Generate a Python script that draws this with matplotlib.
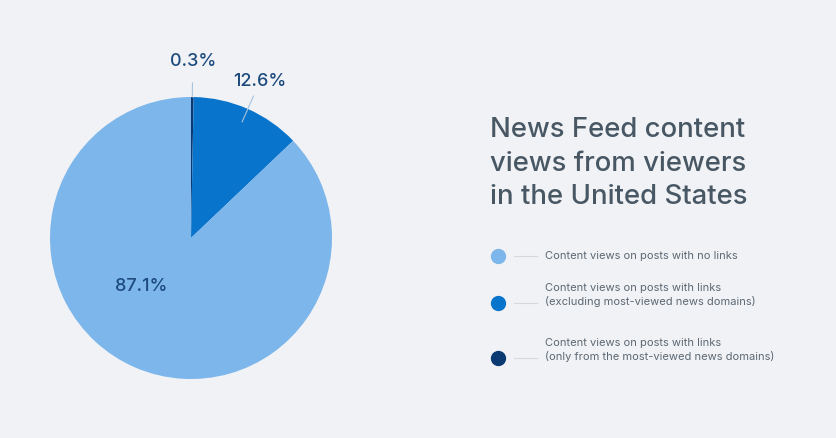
import numpy as np
import matplotlib.pyplot as plt

# data
shares = [0.3, 12.6, 87.1]
share_labels = ['0.3%', '12.6%', '87.1%']
legend_labels = [
    'Content views on posts with links\n(only from the most-viewed news domains)',
    'Content views on posts with links\n(excluding most-viewed news domains)',
    'Content views on posts with no links',
]
colors = ['#0B3A73', '#0874CC', '#7CB6EB']
title = 'News Feed content\nviews from viewers\nin the United States'

bg = '#F1F2F5'
label_col = '#1D4B7E'
title_col = '#485764'
legend_col = '#5C6873'
plt.rcParams['font.family'] = ['Inter', 'DejaVu Sans']

fig = plt.figure(figsize=(8.37, 4.38), dpi=100, facecolor=bg)

# pie
ax = fig.add_axes([50 / 837, 59 / 438, 282 / 837, 282 / 438])
ax.set_facecolor(bg)
wedges, _ = ax.pie(shares, colors=colors, startangle=90, counterclock=False,
                   radius=1.0, wedgeprops=dict(linewidth=0))
ax.set_xlim(-1, 1)
ax.set_ylim(-1, 1)
ax.set_aspect('equal')
ax.axis('off')

# outside labels with leader lines
for w, lab, r0, rt in [(wedges[0], share_labels[0], 1.0, 1.25),
                       (wedges[1], share_labels[1], 0.9, 1.21)]:
    ang = np.deg2rad((w.theta1 + w.theta2) / 2)
    ax.plot([r0 * np.cos(ang), 1.1 * np.cos(ang)],
            [r0 * np.sin(ang), 1.1 * np.sin(ang)],
            color='#A9C4DD', lw=0.8, clip_on=False)
    ax.text(rt * np.cos(ang), rt * np.sin(ang), lab, ha='center', va='center',
            fontsize=13, fontweight='medium', color=label_col, clip_on=False)
ax.text(-0.355, -0.345, share_labels[2], ha='center', va='center',
        fontsize=13, fontweight='medium', color=label_col)

# title
fig.text(490 / 837, 1 - 117 / 438, title, ha='left', va='top', fontsize=19.8,
         fontweight='medium', color=title_col, linespacing=1.38)

# legend
ys = [358, 303, 256]
for y, c, lab in zip(ys, colors, legend_labels):
    fy = 1 - y / 438
    fig.add_artist(plt.Line2D([498 / 837], [fy], marker='o', markersize=10,
                              color=c, lw=0, transform=fig.transFigure))
    fig.add_artist(plt.Line2D([514 / 837, 537 / 837], [fy, fy], color='#D5D9DE',
                              lw=0.8, transform=fig.transFigure))
    nl = lab.count('\n')
    fig.text(545 / 837, fy + nl * 0.0185, lab, ha='left', va='center',
             fontsize=8, color=legend_col, linespacing=1.35)

fig.savefig('out.png', dpi=100, facecolor=bg)
